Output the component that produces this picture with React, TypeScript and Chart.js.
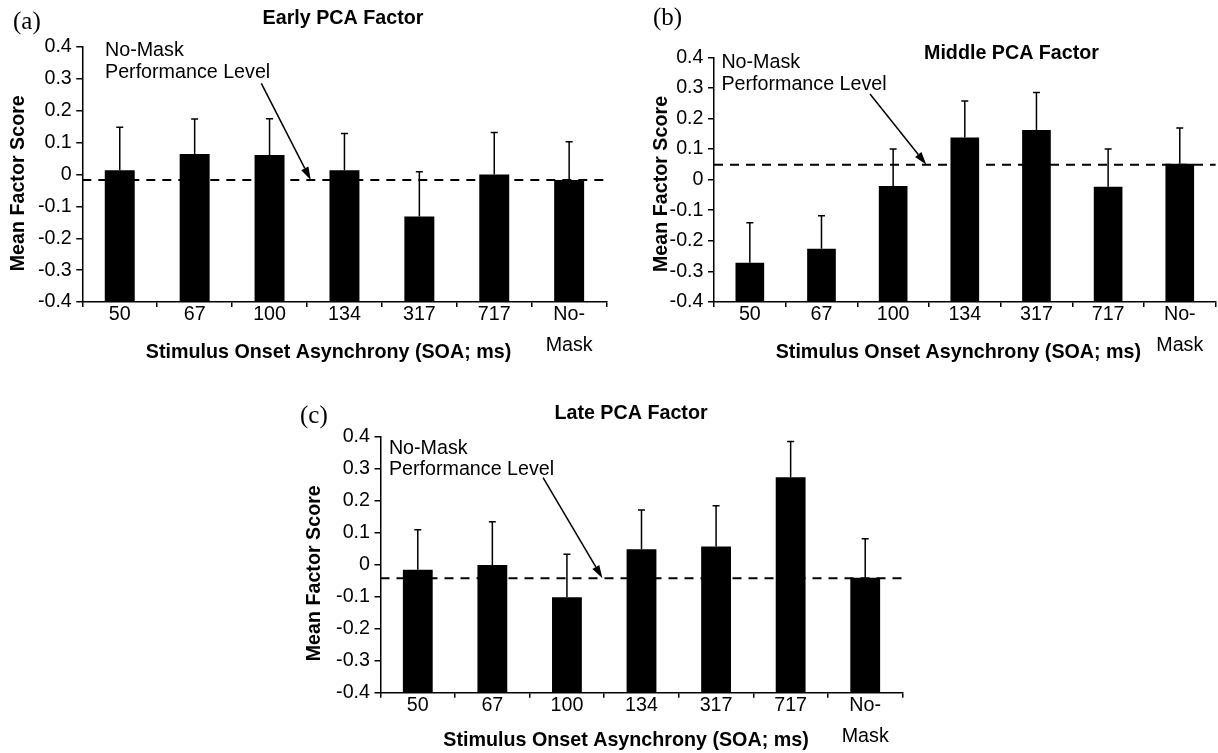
import React, { useEffect, useRef } from 'react';
import { Chart, registerables } from 'chart.js';

Chart.register(...registerables);

// ---------- data ----------
const categories: (string | string[])[] = ['50', '67', '100', '134', '317', '717', ['No-', 'Mask']];
const yMin = -0.4;
const yMax = 0.4;
const yStep = 0.1;

const earlyMeans = [0.013, 0.064, 0.061, 0.013, -0.132, 0.0, -0.017];
const earlyErr = [0.135, 0.11, 0.114, 0.116, 0.141, 0.132, 0.12];
const middleMeans = [-0.272, -0.226, -0.021, 0.138, 0.162, -0.023, 0.052];
const middleErr = [0.131, 0.108, 0.121, 0.119, 0.123, 0.123, 0.117];
const lateMeans = [-0.016, -0.001, -0.102, 0.048, 0.057, 0.273, -0.041];
const lateErr = [0.125, 0.135, 0.135, 0.123, 0.127, 0.112, 0.122];

// No-Mask performance level (dashed line) per panel
const noMaskLevels = [-0.017, 0.049, -0.042];
// arrow [fromCategory, fromValue, toCategory, toValue] per panel
const earlyArrow = [1.89, 0.286, 2.55, -0.017];
const middleArrow = [1.677, 0.28, 2.464, 0.049];
const lateArrow = [1.68, 0.272, 2.476, -0.042];

const panelTitles = ['Early PCA Factor', 'Middle PCA Factor', 'Late PCA Factor'];
const panelLabels = ['(a)', '(b)', '(c)'];
const yTitle = 'Mean Factor Score';
const xTitle = 'Stimulus Onset Asynchrony (SOA; ms)';
const annotationLines = ['No-Mask', 'Performance Level'];

// ---------- layout ----------
const SANS = '"Liberation Sans", Arial, sans-serif';
const SERIF = '"Liberation Serif", "Times New Roman", serif';
const FS = 19.7;

type Panel = {
  left: number; top: number; w: number; h: number;
  chartLeft: number; chartRight: number; chartTop: number; chartBottom: number;
  means: number[]; errs: number[]; level: number; arrow: number[];
  title: string; titlePos: [number, number];
  label: string; labelPos: [number, number];
  yTitlePos: [number, number]; xTitlePos: [number, number];
  annoX: number; annoY: [number, number];
};

const panels: Panel[] = [
  {
    left: 0, top: 0, w: 609, h: 370,
    chartLeft: 82.3, chartRight: 606.6, chartTop: 47, chartBottom: 302,
    means: earlyMeans, errs: earlyErr, level: noMaskLevels[0], arrow: earlyArrow,
    title: panelTitles[0], titlePos: [343, 19],
    label: panelLabels[0], labelPos: [13, 22.5],
    yTitlePos: [18.2, 183.3], xTitlePos: [328.5, 352.5],
    annoX: 105, annoY: [50.5, 72.5],
  },
  {
    left: 609, top: 0, w: 609, h: 370,
    chartLeft: 105, chartRight: 606.6, chartTop: 57.3, chartBottom: 302,
    means: middleMeans, errs: middleErr, level: noMaskLevels[1], arrow: middleArrow,
    title: panelTitles[1], titlePos: [402.5, 53.3],
    label: panelLabels[1], labelPos: [44, 18.5],
    yTitlePos: [53, 184], xTitlePos: [349.4, 352.5],
    annoX: 112.4, annoY: [62.7, 84.3],
  },
  {
    left: 290, top: 380, w: 628, h: 373,
    chartLeft: 90.5, chartRight: 612.5, chartTop: 56.7, chartBottom: 312.7,
    means: lateMeans, errs: lateErr, level: noMaskLevels[2], arrow: lateArrow,
    title: panelTitles[2], titlePos: [341, 33.3],
    label: panelLabels[2], labelPos: [10, 36.7],
    yTitlePos: [25, 193.3], xTitlePos: [336, 361],
    annoX: 98.9, annoY: [69, 90],
  },
];

const X_AXIS_H = 60;

function PanelChart({ p }: { p: Panel }) {
  const ref = useRef<HTMLCanvasElement>(null);
  useEffect(() => {
    const canvas = ref.current;
    if (!canvas) return;

    const decor = {
      id: 'decor' + p.label,
      beforeDatasetsDraw(chart: any) {
        const ctx = chart.ctx;
        const ys = chart.scales.y;
        const ca = chart.chartArea;
        const yl = ys.getPixelForValue(p.level);
        ctx.save();
        ctx.strokeStyle = '#000';
        ctx.lineWidth = 2;
        ctx.setLineDash([9, 7]);
        ctx.beginPath();
        ctx.moveTo(ca.left, yl);
        ctx.lineTo(ca.right, yl);
        ctx.stroke();
        ctx.restore();
      },
      afterDatasetsDraw(chart: any) {
        const ctx = chart.ctx;
        const xs = chart.scales.x;
        const ys = chart.scales.y;
        ctx.save();
        ctx.strokeStyle = '#000';
        ctx.fillStyle = '#000';
        ctx.lineWidth = 1.5;
        ctx.setLineDash([]);
        // error bars (upper only)
        p.means.forEach((m, i) => {
          const x = xs.getPixelForValue(i);
          const y0 = ys.getPixelForValue(m);
          const y1 = ys.getPixelForValue(m + p.errs[i]);
          ctx.beginPath();
          ctx.moveTo(x, y0);
          ctx.lineTo(x, y1);
          ctx.moveTo(x - 3.5, y1);
          ctx.lineTo(x + 3.5, y1);
          ctx.stroke();
        });
        // arrow
        const ax0 = xs.getPixelForValue(p.arrow[0]);
        const ay0 = ys.getPixelForValue(p.arrow[1]);
        const ax1 = xs.getPixelForValue(p.arrow[2]);
        const ay1 = ys.getPixelForValue(p.arrow[3]);
        const ang = Math.atan2(ay1 - ay0, ax1 - ax0);
        const hl = 13;
        const hw = 4;
        const bx = ax1 - hl * Math.cos(ang);
        const by = ay1 - hl * Math.sin(ang);
        ctx.beginPath();
        ctx.moveTo(ax0, ay0);
        ctx.lineTo(bx, by);
        ctx.stroke();
        ctx.beginPath();
        ctx.moveTo(ax1, ay1);
        ctx.lineTo(bx + hw * Math.sin(ang), by - hw * Math.cos(ang));
        ctx.lineTo(bx - hw * Math.sin(ang), by + hw * Math.cos(ang));
        ctx.closePath();
        ctx.fill();

        // texts
        ctx.textBaseline = 'middle';
        ctx.textAlign = 'left';
        ctx.font = `${FS}px ${SANS}`;
        ctx.fillText(annotationLines[0], p.annoX, p.annoY[0]);
        ctx.fillText(annotationLines[1], p.annoX, p.annoY[1]);

        ctx.font = `25px ${SERIF}`;
        ctx.fillText(p.label, p.labelPos[0], p.labelPos[1]);

        ctx.textAlign = 'center';
        ctx.font = `bold ${FS}px ${SANS}`;
        ctx.fillText(p.title, p.titlePos[0], p.titlePos[1]);
        ctx.fillText(xTitle, p.xTitlePos[0], p.xTitlePos[1]);

        ctx.translate(p.yTitlePos[0], p.yTitlePos[1]);
        ctx.rotate(-Math.PI / 2);
        ctx.fillText(yTitle, 0, 0);
        ctx.restore();
      },
    };

    const chart = new Chart(canvas, {
      type: 'bar',
      data: {
        labels: categories as any,
        datasets: [
          {
            data: p.means,
            base: yMin,
            backgroundColor: '#000',
            borderWidth: 0,
            barPercentage: 0.4,
            categoryPercentage: 1,
          } as any,
        ],
      },
      options: {
        responsive: false,
        animation: false,
        devicePixelRatio: 1,
        layout: {
          padding: {
            left: 0,
            right: p.w - p.chartRight,
            top: p.chartTop,
            bottom: p.h - p.chartBottom - X_AXIS_H,
          },
        },
        plugins: {
          legend: { display: false },
          tooltip: { enabled: false },
          title: { display: false },
        },
        scales: {
          x: {
            type: 'category',
            offset: true,
            grid: {
              offset: true,
              drawOnChartArea: false,
              drawTicks: true,
              tickLength: 5,
              color: '#000',
              lineWidth: 1.5,
            },
            border: { color: '#000', width: 1.5 },
            ticks: {
              color: '#000',
              font: { family: SANS, size: FS, lineHeight: '31px' },
              padding: -7.5,
              maxRotation: 0,
              minRotation: 0,
              autoSkip: false,
            },
            afterFit: (s: any) => {
              s.height = X_AXIS_H;
            },
          },
          y: {
            min: yMin,
            max: yMax,
            ticks: {
              stepSize: yStep,
              color: '#000',
              font: { family: SANS, size: FS },
              padding: 4.5,
              autoSkip: false,
              callback: (v: any) => {
                const r = Math.round(Number(v) * 10) / 10;
                return r === 0 ? '0' : String(r);
              },
            },
            grid: {
              drawOnChartArea: false,
              drawTicks: true,
              tickLength: 6,
              color: '#000',
              lineWidth: 1.5,
            },
            border: { color: '#000', width: 1.5 },
            afterFit: (s: any) => {
              s.width = p.chartLeft;
            },
          },
        },
      } as any,
      plugins: [decor],
    });
    return () => chart.destroy();
  }, []);

  return (
    <canvas
      ref={ref}
      width={p.w}
      height={p.h}
      style={{ position: 'absolute', left: p.left, top: p.top, width: p.w, height: p.h }}
    />
  );
}

export default function App() {
  return (
    <div
      style={{
        position: 'absolute',
        left: 0,
        top: 0,
        width: 1218,
        height: 753,
        overflow: 'hidden',
        background: '#fff',
      }}
    >
      {panels.map((p) => (
        <PanelChart key={p.label} p={p} />
      ))}
    </div>
  );
}
